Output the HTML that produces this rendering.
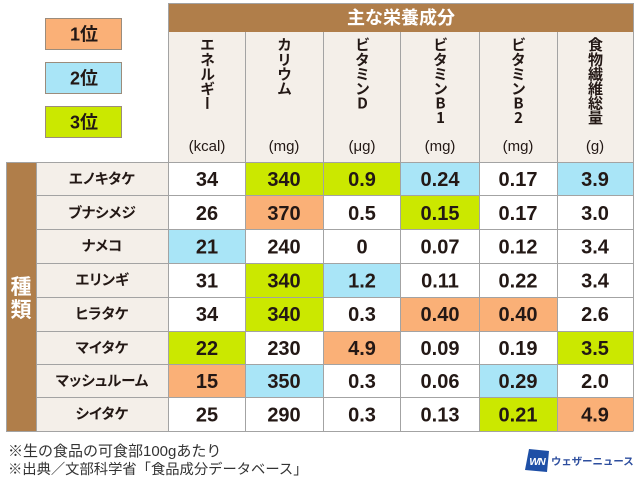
<!DOCTYPE html>
<html><head><meta charset="utf-8">
<style>
html,body{margin:0;padding:0;background:#fff;}
body{width:640px;height:479px;position:relative;overflow:hidden;font-family:"Liberation Sans","Noto Sans CJK JP",sans-serif;}
svg{position:absolute;left:0;top:0;}
.vl{position:absolute;top:37px;width:20px;writing-mode:vertical-rl;text-orientation:upright;font-family:"Noto Sans CJK JP",sans-serif;font-weight:bold;font-size:15px;line-height:20px;letter-spacing:-0.4px;color:#231815;}
.nm{font-feature-settings:"palt";}
</style></head><body>
<svg width="640" height="479" viewBox="0 0 640 479" font-family="Liberation Sans, Noto Sans CJK JP, sans-serif">
<!-- legend -->
<rect x="45.5" y="18.5" width="76" height="31" fill="#FAB077" stroke="#9b8c7c" stroke-width="1"/>
<rect x="45.5" y="62.5" width="76" height="31" fill="#A9E5F7" stroke="#9b8c7c" stroke-width="1"/>
<rect x="45.5" y="106.5" width="76" height="31" fill="#CBE800" stroke="#9b8c7c" stroke-width="1"/>
<g font-weight="bold" font-size="18" fill="#231815" text-anchor="middle">
<text x="84" y="40.5">1位</text>
<text x="84" y="84.5">2位</text>
<text x="84" y="128.5">3位</text>
</g>
<!-- header -->
<rect x="168" y="3" width="465" height="29" fill="#B07E4A"/>
<rect x="168" y="32" width="465" height="130" fill="#F4EFE9"/>
<text x="401" y="24" text-anchor="middle" font-weight="bold" font-size="18" fill="#fff" font-family="Noto Sans CJK JP, sans-serif">主な栄養成分</text>
<!-- left body -->
<rect x="6" y="162" width="30" height="270" fill="#B07E4A"/>
<rect x="36" y="162" width="132" height="270" fill="#F4EFE9"/>
<g font-family="Noto Sans CJK JP, sans-serif" font-weight="bold" font-size="21" fill="#fff" text-anchor="middle">
<text x="21" y="294">種</text>
<text x="21" y="317">類</text>
</g>
<!-- colored cells -->
<g>
<rect x="245" y="162" width="78" height="33.5" fill="#CBE800"/>
<rect x="323" y="162" width="77" height="33.5" fill="#CBE800"/>
<rect x="400" y="162" width="79" height="33.5" fill="#A9E5F7"/>
<rect x="557" y="162" width="76" height="33.5" fill="#A9E5F7"/>
<rect x="245" y="195.5" width="78" height="34" fill="#FAB077"/>
<rect x="400" y="195.5" width="79" height="34" fill="#CBE800"/>
<rect x="168" y="229.5" width="77" height="33.5" fill="#A9E5F7"/>
<rect x="245" y="263" width="78" height="34" fill="#CBE800"/>
<rect x="323" y="263" width="77" height="34" fill="#A9E5F7"/>
<rect x="245" y="297" width="78" height="34" fill="#CBE800"/>
<rect x="400" y="297" width="79" height="34" fill="#FAB077"/>
<rect x="479" y="297" width="78" height="34" fill="#FAB077"/>
<rect x="168" y="331" width="77" height="33" fill="#CBE800"/>
<rect x="323" y="331" width="77" height="33" fill="#FAB077"/>
<rect x="557" y="331" width="76" height="33" fill="#CBE800"/>
<rect x="168" y="364" width="77" height="33.5" fill="#FAB077"/>
<rect x="245" y="364" width="78" height="33.5" fill="#A9E5F7"/>
<rect x="479" y="364" width="78" height="33.5" fill="#A9E5F7"/>
<rect x="479" y="397.5" width="78" height="33.5" fill="#CBE800"/>
<rect x="557" y="397.5" width="76" height="33.5" fill="#FAB077"/>
</g>
<!-- grid lines -->
<g stroke="#A3A3A3" stroke-width="1" fill="none">
<line x1="245.5" y1="32" x2="245.5" y2="431.5"/>
<line x1="323.5" y1="32" x2="323.5" y2="431.5"/>
<line x1="400.5" y1="32" x2="400.5" y2="431.5"/>
<line x1="479.5" y1="32" x2="479.5" y2="431.5"/>
<line x1="557.5" y1="32" x2="557.5" y2="431.5"/>
<line x1="36.5" y1="162" x2="36.5" y2="431.5"/>
<line x1="6" y1="162.5" x2="633" y2="162.5"/>
<line x1="36" y1="195.5" x2="633" y2="195.5"/>
<line x1="36" y1="229.5" x2="633" y2="229.5"/>
<line x1="36" y1="263.5" x2="633" y2="263.5"/>
<line x1="36" y1="297.5" x2="633" y2="297.5"/>
<line x1="36" y1="331.5" x2="633" y2="331.5"/>
<line x1="36" y1="364.5" x2="633" y2="364.5"/>
<line x1="36" y1="397.5" x2="633" y2="397.5"/>
<line x1="6" y1="431.5" x2="633" y2="431.5"/>
<line x1="168.5" y1="3" x2="168.5" y2="431.5"/>
<line x1="633.5" y1="3" x2="633.5" y2="431.5"/>
<line x1="168" y1="3.5" x2="634" y2="3.5"/>
<line x1="6.5" y1="162" x2="6.5" y2="431.5"/>
</g>
<!-- units -->
<g font-size="15" fill="#231815" text-anchor="middle">
<text x="207" y="151">(kcal)</text>
<text x="284" y="151">(mg)</text>
<text x="362" y="151">(μg)</text>
<text x="440" y="151">(mg)</text>
<text x="518" y="151">(mg)</text>
<text x="595" y="151">(g)</text>
</g>
<!-- names -->
<g class="nm" font-family="Noto Sans CJK JP, sans-serif" font-weight="bold" font-size="14.5" fill="#231815" text-anchor="middle">
<text x="102" y="184">エノキタケ</text>
<text x="102" y="218">ブナシメジ</text>
<text x="102" y="251">ナメコ</text>
<text x="102" y="285">エリンギ</text>
<text x="102" y="319">ヒラタケ</text>
<text x="102" y="353">マイタケ</text>
<text x="102" y="386">マッシュルーム</text>
<text x="102" y="419">シイタケ</text>
</g>
<!-- data -->
<g font-weight="bold" font-size="20" fill="#231815" text-anchor="middle">
<text x="207" y="186">34</text><text x="284" y="186">340</text><text x="362" y="186">0.9</text><text x="440" y="186">0.24</text><text x="518" y="186">0.17</text><text x="595" y="186">3.9</text>
<text x="207" y="220">26</text><text x="284" y="220">370</text><text x="362" y="220">0.5</text><text x="440" y="220">0.15</text><text x="518" y="220">0.17</text><text x="595" y="220">3.0</text>
<text x="207" y="253.5">21</text><text x="284" y="253.5">240</text><text x="362" y="253.5">0</text><text x="440" y="253.5">0.07</text><text x="518" y="253.5">0.12</text><text x="595" y="253.5">3.4</text>
<text x="207" y="287.5">31</text><text x="284" y="287.5">340</text><text x="362" y="287.5">1.2</text><text x="440" y="287.5">0.11</text><text x="518" y="287.5">0.22</text><text x="595" y="287.5">3.4</text>
<text x="207" y="321">34</text><text x="284" y="321">340</text><text x="362" y="321">0.3</text><text x="440" y="321">0.40</text><text x="518" y="321">0.40</text><text x="595" y="321">2.6</text>
<text x="207" y="355">22</text><text x="284" y="355">230</text><text x="362" y="355">4.9</text><text x="440" y="355">0.09</text><text x="518" y="355">0.19</text><text x="595" y="355">3.5</text>
<text x="207" y="388">15</text><text x="284" y="388">350</text><text x="362" y="388">0.3</text><text x="440" y="388">0.06</text><text x="518" y="388">0.29</text><text x="595" y="388">2.0</text>
<text x="207" y="421.5">25</text><text x="284" y="421.5">290</text><text x="362" y="421.5">0.3</text><text x="440" y="421.5">0.13</text><text x="518" y="421.5">0.21</text><text x="595" y="421.5">4.9</text>
</g>
<!-- footnotes -->
<g font-family="Liberation Sans, Noto Sans CJK JP, sans-serif" fill="#333" font-size="15">
<text x="8" y="456">※生の食品の可食部100gあたり</text>
<text x="8" y="474" font-size="14.3">※出典／文部科学省「食品成分データベース」</text>
</g>
<!-- logo -->
<polygon points="529,449 549,451 547,472 525,470" fill="#1E4FA6"/>
<text x="537" y="465" text-anchor="middle" font-weight="bold" font-style="italic" font-size="10.5" fill="#fff" letter-spacing="-1">WN</text>
<text x="551" y="465" font-family="Noto Sans CJK JP, sans-serif" font-weight="bold" font-size="10.4" fill="#2D4E9E">ウェザーニュース</text>
</svg>
<div class="vl" style="left:197px;">エネルギー</div>
<div class="vl" style="left:274px;">カリウム</div>
<div class="vl" style="left:352px;">ビタミンD</div>
<div class="vl" style="left:430px;">ビタミンB1</div>
<div class="vl" style="left:508px;">ビタミンB2</div>
<div class="vl" style="left:585px;">食物繊維総量</div>
</body></html>
